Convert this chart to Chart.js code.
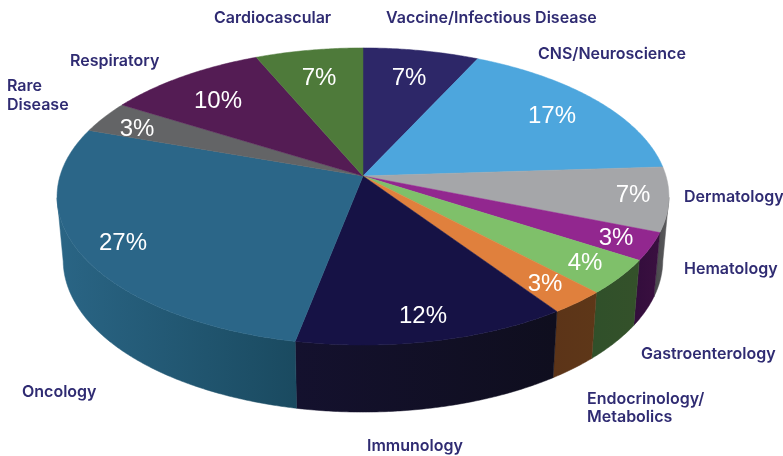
<!DOCTYPE html>
<html>
<head>
<meta charset="utf-8">
<script src="https://cdn.jsdelivr.net/npm/chart.js@4"></script>
<style>
	html, body { margin: 0; padding: 0; background: #fff; }
	#chart-wrapper { width: 783px; height: 456px; }
</style>
</head>
<body>
<div id="chart-wrapper"><canvas id="chart-therapy-areas"></canvas></div>
<script>
// Chart data
const CATEGORIES = [
	"Vaccine/Infectious Disease", "CNS/Neuroscience", "Dermatology", "Hematology", "Gastroenterology",
	"Endocrinology/Metabolics", "Immunology", "Oncology", "Rare Disease", "Respiratory", "Cardiocascular",
];
const VALUE_LABELS = ["7%", "17%", "7%", "3%", "4%", "3%", "12%", "27%", "3%", "10%", "7%"];
const SHARES = [7, 17, 7, 3, 3.8, 2.6, 12.7, 27.2, 3.45, 9.75, 6.5];

// Colors
const TOP_COLORS = ["#2d2768", "#4da6dd", "#a5a6a9", "#92278f", "#7fc06a", "#e0803d", "#161245", "#2b6688", "#636466", "#541c54", "#4e7a3a"];
// Side wall colors, left end then right end of each slice
const SIDE_COLORS = [
	["#1c1840", "#1c1840"], ["#2d6585", "#2d6585"], ["#47474a", "#5e5e60"], ["#330d3c", "#3a1040"], ["#30502a", "#34512a"],
	["#5c3418", "#5e3718"], ["#14112e", "#0f0e1e"], ["#2a6585", "#1a4a60"], ["#444444", "#444444"], ["#3a123a", "#3a123a"], ["#355428", "#355428"],
];

// Text placement, in pixels
const NAME_LINES = [
	["Vaccine/Infectious Disease", 386, 23], ["CNS/Neuroscience", 538, 59], ["Dermatology", 684, 202], ["Hematology", 684, 274],
	["Gastroenterology", 641, 359], ["Endocrinology/", 587, 404], ["Metabolics", 587, 422], ["Immunology", 367, 451],
	["Oncology", 22, 397], ["Rare", 7, 91], ["Disease", 7, 110], ["Respiratory", 70, 66], ["Cardiocascular", 214, 23],
];
const VALUE_SPOTS = [[409, 78], [552, 116], [633, 195], [616, 238], [585, 263], [545, 284], [423, 316], [123, 243], [137, 129], [218, 101], [319, 78]];

// Pie look
const TILT = 0.481;
const PERSPECTIVE = 0.138;
const BASE_SCALE = 0.98;

const pie3d = {
	id: "pie3d",
	beforeDatasetDraw(chart, args) {
		const ctx = chart.ctx;
		const arcs = args.meta.data;

		// Top surface point on the tilted disc
		const topPoint = (arc, angle) => {
			const u = Math.cos(angle);
			const v = Math.sin(angle);
			const w = 1 - PERSPECTIVE * v;
			return [arc.x + (arc.outerRadius * u) / w, arc.y + (arc.outerRadius * TILT * v) / w];
		};
		// Same point on the bottom disc
		const basePoint = (arc, angle) => {
			const [x, y] = topPoint(arc, angle);
			return [arc.x + (x - arc.x) * BASE_SCALE, y + 63 + 4 * Math.sin(angle)];
		};
		const arcAngles = (arc, perDegree) => {
			const span = arc.endAngle - arc.startAngle;
			const steps = Math.ceil((span * 180 * perDegree) / Math.PI);
			return Array.from({ length: steps + 1 }, (_, s) => arc.startAngle + (span * s) / steps);
		};

		// Side wall, shaded left to right. The disc's widest point is at sin = PERSPECTIVE,
		// the wall behind that is hidden
		arcs.forEach((arc, i) => {
			const angles = arcAngles(arc, 2).filter((a) => Math.sin(a) >= PERSPECTIVE);
			if (angles.length < 2) return;
			const tops = angles.map((a) => topPoint(arc, a));
			const bases = angles.map((a) => basePoint(arc, a));
			const xs = tops.concat(bases).map((p) => p[0]);
			const gradient = ctx.createLinearGradient(Math.min(...xs), 0, Math.max(...xs), 0);
			gradient.addColorStop(0, SIDE_COLORS[i][0]);
			gradient.addColorStop(1, SIDE_COLORS[i][1]);

			ctx.beginPath();
			tops.concat(bases.reverse()).forEach((pt, n) => (n ? ctx.lineTo(pt[0], pt[1]) : ctx.moveTo(pt[0], pt[1])));
			ctx.closePath();
			ctx.fillStyle = gradient;
			ctx.strokeStyle = gradient;
			ctx.lineWidth = 0.5;
			ctx.fill();
			ctx.stroke();
		});

		// Top surface
		arcs.forEach((arc, i) => {
			ctx.beginPath();
			ctx.moveTo(arc.x, arc.y);
			arcAngles(arc, 2).forEach((a) => {
				const pt = topPoint(arc, a);
				ctx.lineTo(pt[0], pt[1]);
			});
			ctx.closePath();
			ctx.fillStyle = TOP_COLORS[i];
			ctx.strokeStyle = TOP_COLORS[i];
			ctx.lineWidth = 0.5;
			ctx.fill();
			ctx.stroke();
		});

		// Skip the flat arcs of the library
		return false;
	},
	afterDraw(chart) {
		const ctx = chart.ctx;
		ctx.save();

		ctx.font = "600 16px Inter";
		ctx.fillStyle = "#2f2b72";
		ctx.textAlign = "left";
		ctx.textBaseline = "alphabetic";
		NAME_LINES.forEach(([text, x, y]) => ctx.fillText(text, x, y));

		ctx.font = '24px "Liberation Sans"';
		ctx.fillStyle = "#ffffff";
		ctx.textAlign = "center";
		ctx.textBaseline = "middle";
		VALUE_LABELS.forEach((label, i) => ctx.fillText(label, VALUE_SPOTS[i][0], VALUE_SPOTS[i][1]));

		ctx.restore();
	},
};

// Chart init
new Chart(document.getElementById("chart-therapy-areas"), {
	type: "pie",
	data: {
		labels: CATEGORIES,
		datasets: [{ data: SHARES, backgroundColor: TOP_COLORS, borderWidth: 0, radius: 303 }],
	},
	options: {
		responsive: true,
		maintainAspectRatio: false,
		animation: false,
		layout: { padding: { left: 0, right: 57, top: 0, bottom: 104 } },
		plugins: { legend: { display: false }, tooltip: { enabled: false } },
	},
	plugins: [pie3d],
});
</script>
</body>
</html>
